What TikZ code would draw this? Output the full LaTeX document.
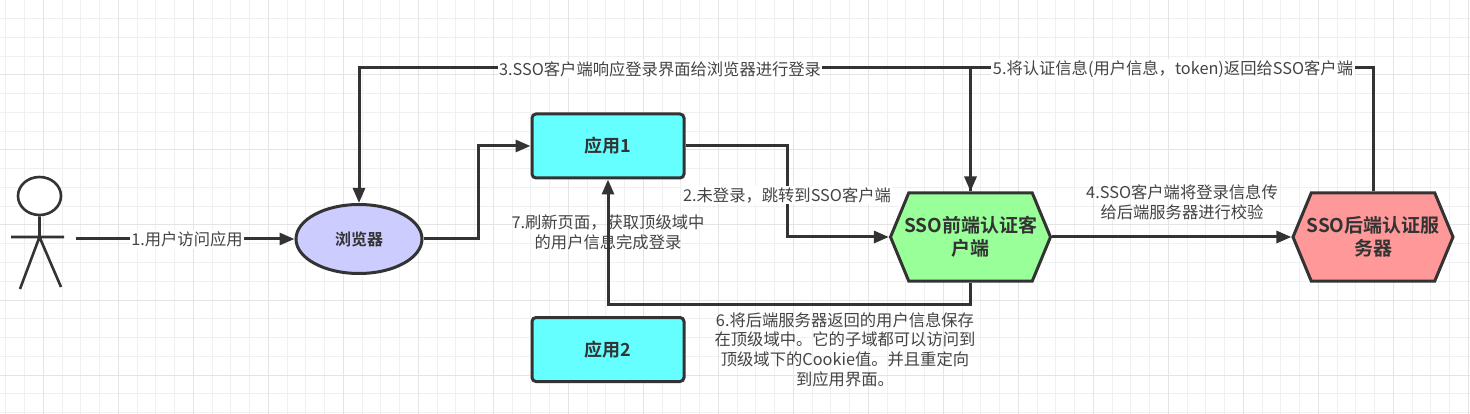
\documentclass[tikz,border=0pt]{standalone}
\usepackage{fontspec}
\setmainfont{Noto Sans CJK SC}[BoldFont={Noto Sans CJK SC Bold}]
\usetikzlibrary{arrows.meta,shapes.geometric,shapes.symbols}
\definecolor{ink}{HTML}{333333}
\definecolor{txt}{HTML}{444444}
\definecolor{gridmajor}{HTML}{E4E4E4}
\definecolor{gridminor}{HTML}{F0F0F0}
\definecolor{violetfill}{HTML}{CCCCFF}
\definecolor{cyanfill}{HTML}{66FFFF}
\definecolor{greenfill}{HTML}{99FF99}
\definecolor{redfill}{HTML}{FF9999}
\tikzset{
  line/.style={draw=ink,line width=3pt,line join=miter},
  flow/.style={line,-{Triangle[length=15pt,width=12pt]}},
  box/.style={draw=ink,line width=3pt,rounded corners=4pt,fill=#1,minimum width=152pt,minimum height=64pt,inner sep=0pt,text=ink,font=\fontsize{18}{22}\selectfont\bfseries},
  oval/.style={ellipse,draw=ink,line width=3pt,fill=#1,minimum width=126pt,minimum height=69pt,inner sep=0pt,text=ink,font=\fontsize{16}{20}\selectfont\bfseries},
  hexnode/.style={signal,signal to=west and east,signal pointer angle=135,draw=ink,line width=3pt,fill=#1,minimum width=160pt,minimum height=88pt,inner sep=0pt},
  hextext/.style={inner sep=0pt,align=center,text=ink,font=\fontsize{19}{23}\selectfont\bfseries},
  lab/.style={fill=white,inner sep=1.5pt,align=center,text=txt,font=\fontsize{16.3}{19.7}\selectfont},
  labfree/.style={lab,fill=none},
}
\begin{document}
\begin{tikzpicture}[x=1pt,y=-1pt]
\useasboundingbox (0,0) rectangle (1470,414);
\fill[white] (0,0) rectangle (1470,414);
% grid
\foreach \i in {0,...,79}{
  \pgfmathsetmacro{\xx}{5.75+18.75*\i}
  \draw[gridminor,line width=1pt] (\xx,0) -- (\xx,414);
}
\foreach \i in {0,...,22}{
  \pgfmathsetmacro{\yy}{0+18.75*\i}
  \draw[gridminor,line width=1pt] (0,\yy) -- (1470,\yy);
}
\foreach \i in {0,...,19}{
  \pgfmathsetmacro{\xx}{43.25+75*\i}
  \draw[gridmajor,line width=1pt] (\xx,0) -- (\xx,414);
}
\foreach \i in {0,...,5}{
  \pgfmathsetmacro{\yy}{0+75*\i}
  \draw[gridmajor,line width=1pt] (0,\yy) -- (1470,\yy);
}
% actor
\node[ellipse,draw=ink,line width=2.6pt,fill=white,minimum width=43pt,minimum height=38pt,inner sep=0pt] (head) at (39.5,196) {};
\coordinate (hip) at (39.5,237);
\coordinate (armL) at (11,237);
\coordinate (armR) at (64,237);
\coordinate (legL) at (20,289);
\coordinate (legR) at (61,287);
\draw[line,line width=2.6pt] (head.south) -- (hip) (armL) -- (armR) (legL) -- (hip) -- (legR);
\coordinate (start) at (76,239);
% nodes
\node[oval=violetfill] (browser) at (359,239) {浏览器};
\node[box=cyanfill] (app1) at (608,146) {应用1};
\node[box=cyanfill] (app2) at (608,349.5) {应用2};
\node[hexnode=greenfill] (front) at (970.5,237) {};
\node[hextext] (frontText) at (front.center) {SSO前端认证客\\户端};
\node[hexnode=redfill] (back) at (1373,237) {};
\node[hextext] (backText) at (back.center) {SSO后端认证服\\务器};
% helper points
\coordinate (c2) at (787,195);
\coordinate (c3) at (660,68);
\coordinate (c5) at (1173,68);
\coordinate (c6) at (845,304);
% free label under the line
\node[labfree] (l7) at (608,232) {7.刷新页面，获取顶级域中\\的用户信息完成登录};
% connectors
\draw[flow] (start) -- (browser.west);
\draw[flow] (browser.east) -- ++(55,0) |- (app1.west);
\draw[flow] (app1.east) -| (c2) |- (front.west);
\draw[flow] (front.north) |- (c3) -| (browser.north);
\draw[flow] (front.east) -- (back.west);
\draw[flow] (back.north) |- (c5) -| (front.north);
\draw[flow] (front.south) |- (c6) -| (app1.south);
% labels
\node[lab] (l1) at (187,239.5) {1.用户访问应用};
\node[lab] (l2) at (787,195) {2.未登录，跳转到SSO客户端};
\node[lab] (l3) at (660,69) {3.SSO客户端响应登录界面给浏览器进行登录};
\node[labfree] (l4) at (1182,202) {4.SSO客户端将登录信息传\\给后端服务器进行校验};
\node[lab] (l5) at (1173,69) {5.将认证信息(用户信息，token)返回给SSO客户端};
\node[labfree] (l6) at (845,349.5) {6.将后端服务器返回的用户信息保存\\在顶级域中。它的子域都可以访问到\\顶级域下的Cookie值。并且重定向\\到应用界面。};
\end{tikzpicture}
\end{document}
